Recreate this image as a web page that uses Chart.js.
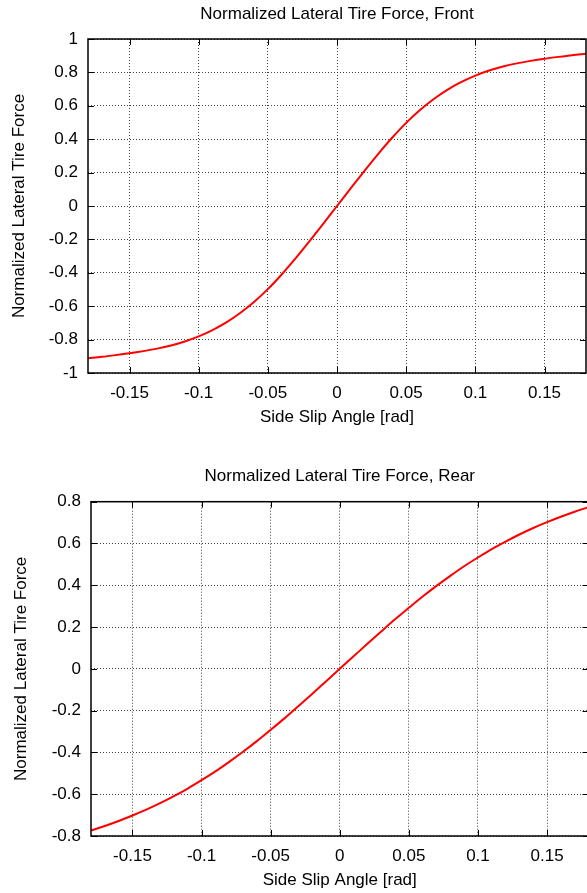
<!DOCTYPE html>
<html>
<head>
<meta charset="utf-8">
<script src="https://cdn.jsdelivr.net/npm/chart.js@4/dist/chart.umd.min.js"></script>
<style>
  html, body { margin: 0; padding: 0; background: #fff; overflow: hidden; }
  #front { position: absolute; left: 0; top: 0; }
  #rear { position: absolute; left: 0; top: 460px; }
</style>
</head>
<body>
<canvas id="front" width="587" height="432"></canvas>
<canvas id="rear" width="589" height="433"></canvas>
<script>
// side slip angle [rad]
const slipAngle = [
  -0.18, -0.17, -0.16, -0.15, -0.14, -0.13, -0.12, -0.11, -0.10, -0.09,
  -0.08, -0.07, -0.06, -0.05, -0.04, -0.03, -0.02, -0.01, 0,
  0.01, 0.02, 0.03, 0.04, 0.05, 0.06, 0.07, 0.08, 0.09, 0.10,
  0.11, 0.12, 0.13, 0.14, 0.15, 0.16, 0.17, 0.18
];

// normalized lateral force, front tire
const frontForce = [
  -0.911, -0.903, -0.893, -0.882, -0.869, -0.854, -0.835, -0.811, -0.781, -0.743,
  -0.697, -0.641, -0.575, -0.498, -0.410, -0.314, -0.212, -0.107, 0,
  0.107, 0.212, 0.314, 0.410, 0.498, 0.575, 0.641, 0.697, 0.743, 0.781,
  0.811, 0.835, 0.854, 0.869, 0.882, 0.893, 0.903, 0.911
];

// normalized lateral force, rear tire
const rearForce = [
  -0.774, -0.752, -0.728, -0.702, -0.674, -0.643, -0.609, -0.573, -0.533, -0.491,
  -0.445, -0.397, -0.346, -0.292, -0.237, -0.179, -0.120, -0.060, 0,
  0.060, 0.120, 0.179, 0.237, 0.292, 0.346, 0.397, 0.445, 0.491, 0.533,
  0.573, 0.609, 0.643, 0.674, 0.702, 0.728, 0.752, 0.774
];

// tick positions
const xTicks = [-0.15, -0.1, -0.05, 0, 0.05, 0.1, 0.15];
const yTicksFront = [-1, -0.8, -0.6, -0.4, -0.2, 0, 0.2, 0.4, 0.6, 0.8, 1];
const yTicksRear = [-0.8, -0.6, -0.4, -0.2, 0, 0.2, 0.4, 0.6, 0.8];

const FONT = "'Liberation Sans', Helvetica, Arial, sans-serif";
const SIZE = 17;

// gnuplot style frame with inward ticks on all four sides
const framePlugin = {
  id: 'frame',
  afterDatasetsDraw(chart) {
    const { ctx, chartArea: a, scales: { x, y } } = chart;
    ctx.save();
    ctx.strokeStyle = '#000';
    ctx.lineWidth = 1;
    ctx.beginPath();
    x.ticks.forEach(t => {
      const px = Math.round(x.getPixelForValue(t.value)) + 0.5;
      ctx.moveTo(px, a.bottom); ctx.lineTo(px, a.bottom - 6);
      ctx.moveTo(px, a.top); ctx.lineTo(px, a.top + 6);
    });
    y.ticks.forEach(t => {
      const py = Math.round(y.getPixelForValue(t.value)) + 0.5;
      ctx.moveTo(a.left, py); ctx.lineTo(a.left + 6, py);
      ctx.moveTo(a.right, py); ctx.lineTo(a.right - 6, py);
    });
    ctx.stroke();
    ctx.lineWidth = 1.5;
    ctx.strokeRect(a.left, a.top, a.right - a.left, a.bottom - a.top);
    ctx.restore();
  }
};

function makeChart(id, title, values, yTicks, yLim, geo) {
  const points = slipAngle.map((s, i) => ({ x: s, y: values[i] }));
  return new Chart(document.getElementById(id), {
    type: 'scatter',
    data: {
      datasets: [{
        data: points,
        showLine: true,
        borderColor: '#ff0000',
        borderWidth: 2,
        pointRadius: 0,
        cubicInterpolationMode: 'monotone'
      }]
    },
    options: {
      responsive: false,
      animation: false,
      layout: { padding: { left: 0, right: geo.padRight, top: 0, bottom: 0 } },
      plugins: {
        legend: { display: false },
        tooltip: { enabled: false },
        title: {
          display: true,
          text: title,
          fullSize: false,
          color: '#000',
          font: { family: FONT, size: SIZE, weight: 'normal' },
          padding: { top: geo.titleTop, bottom: geo.titleBottom }
        }
      },
      scales: {
        x: {
          type: 'linear',
          min: -0.18,
          max: 0.18,
          afterBuildTicks: axis => { axis.ticks = xTicks.map(v => ({ value: v })); },
          afterFit: axis => { axis.height = geo.xHeight; },
          ticks: {
            color: '#000',
            padding: 10,
            font: { family: FONT, size: SIZE },
            callback: v => String(v)
          },
          grid: { color: '#444', lineWidth: 1, drawTicks: false },
          border: { display: false, dash: [1, 2] },
          title: {
            display: true,
            text: 'Side Slip Angle [rad]',
            color: '#000',
            font: { family: FONT, size: SIZE },
            padding: { top: 0, bottom: geo.xTitleBottom }
          }
        },
        y: {
          type: 'linear',
          min: -yLim,
          max: yLim,
          afterBuildTicks: axis => { axis.ticks = yTicks.map(v => ({ value: v })); },
          afterFit: axis => { axis.width = geo.yWidth; },
          ticks: {
            color: '#000',
            padding: 10,
            font: { family: FONT, size: SIZE },
            callback: v => String(v)
          },
          grid: { color: '#444', lineWidth: 1, drawTicks: false },
          border: { display: false, dash: [1, 2] },
          title: {
            display: true,
            text: 'Normalized Lateral Tire Force',
            color: '#000',
            font: { family: FONT, size: SIZE },
            padding: { top: geo.yTitleTop, bottom: 0 }
          }
        }
      }
    },
    plugins: [framePlugin]
  });
}

makeChart('front', 'Normalized Lateral Tire Force, Front', frontForce, yTicksFront, 1, {
  padRight: 1, titleTop: 4, titleBottom: 14.6, xHeight: 59, xTitleBottom: 4.7, yWidth: 88, yTitleTop: 8.7
});

makeChart('rear', 'Normalized Lateral Tire Force, Rear', rearForce, yTicksRear, 0.8, {
  padRight: 0.5, titleTop: 6.5, titleBottom: 14.8, xHeight: 57, xTitleBottom: 2.7, yWidth: 91, yTitleTop: 10.7
});
</script>
</body>
</html>
